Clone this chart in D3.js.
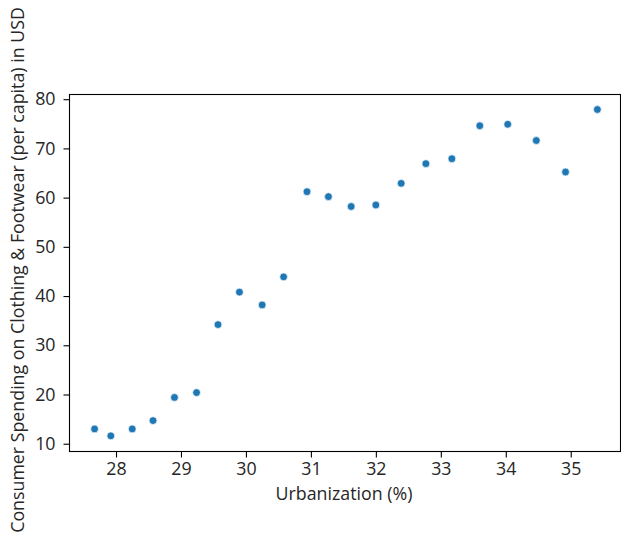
<!DOCTYPE html>
<html><head><meta charset="utf-8">
<script src="https://cdn.jsdelivr.net/npm/d3@7"></script>
<style>
html,body{margin:0;padding:0;background:#fff;}
svg{display:block;}
text{font-family:"Open Sans",sans-serif;}
</style></head>
<body><svg id="c" width="621" height="536"></svg>
<script>
const urbanization = [27.67,27.92,28.25,28.57,28.90,29.24,29.57,29.90,30.25,30.58,30.94,31.27,31.62,32.00,32.39,32.77,33.17,33.60,34.03,34.47,34.92,35.41];
const spending = [13.0,11.6,13.0,14.7,19.4,20.4,34.2,40.8,38.2,43.9,61.2,60.2,58.2,58.5,62.9,66.9,67.9,74.6,74.9,71.6,65.2,77.9];
const xTicks = [28,29,30,31,32,33,34,35];
const yTicks = [10,20,30,40,50,60,70,80];
const xLabel = "Urbanization (%)";
const yLabel = "Consumer Spending on Clothing & Footwear (per capita) in USD";

const svg = d3.select("#c");
const L = 69.5, R = 620.5, T = 94.5, B = 451.5;
const x = d3.scaleLinear().domain([27.284, 35.766]).range([L, R]);
const y = d3.scaleLinear().domain([8.42, 80.95]).range([B, T]);

const fs = 17.8, tc = "#262626";

const gx = svg.append("g").attr("transform", `translate(0,${B})`)
  .call(d3.axisBottom(x).tickValues(xTicks).tickFormat(d3.format("d")).tickSize(6).tickPadding(5));
const gy = svg.append("g").attr("transform", `translate(${L},0)`)
  .call(d3.axisLeft(y).tickValues(yTicks).tickFormat(d3.format("d")).tickSize(6).tickPadding(8));
[gx, gy].forEach(g => {
  g.select(".domain").remove();
  g.selectAll(".tick line").attr("stroke", "#000").attr("stroke-width", 1.1);
  g.selectAll(".tick text").attr("fill", tc).style("font-size", fs + "px").style("font-family", "Open Sans");
});

svg.append("rect").attr("x", L).attr("y", T).attr("width", R - L).attr("height", B - T)
  .attr("fill", "none").attr("stroke", "#000").attr("stroke-width", 1.1);

svg.append("g").selectAll("circle").data(urbanization).join("circle")
  .attr("cx", d => x(d)).attr("cy", (d, i) => y(spending[i]))
  .attr("r", 3.9).attr("fill", "#1f77b4").attr("stroke", "#fff").attr("stroke-width", 0.7);

svg.append("text").attr("x", (L + R) / 2 - 1).attr("y", 500).attr("text-anchor", "middle")
  .attr("fill", tc).style("font-size", fs + "px").text(xLabel);
svg.append("text").attr("transform", `translate(24,270) rotate(-90)`)
  .attr("text-anchor", "middle").attr("fill", tc).style("font-size", fs + "px").text(yLabel);
</script></body></html>
